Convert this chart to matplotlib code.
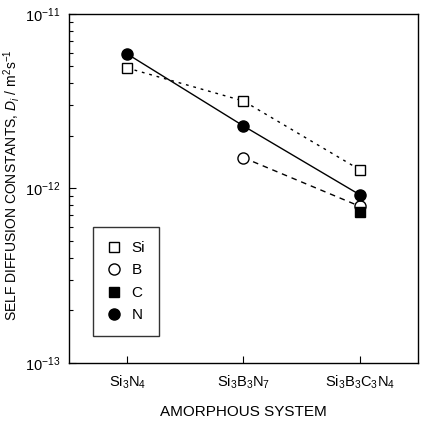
import numpy as np
import matplotlib
matplotlib.use('Agg')
import matplotlib.pyplot as plt
from matplotlib.lines import Line2D

plt.rcParams['font.family'] = ['Liberation Sans', 'DejaVu Sans']
plt.rcParams['mathtext.fontset'] = 'custom'
plt.rcParams['mathtext.rm'] = 'Liberation Sans'
plt.rcParams['mathtext.it'] = 'Liberation Sans:italic'

systems = ['Si$_3$N$_4$', 'Si$_3$B$_3$N$_7$', 'Si$_3$B$_3$C$_3$N$_4$']
si_vals = [4.9e-12, 3.17e-12, 1.28e-12]
b_vals = [1.5e-12, 7.9e-13]
c_vals = [7.3e-13]
n_vals = [5.9e-12, 2.28e-12, 9.2e-13]

x = np.arange(len(systems))

fig = plt.figure(figsize=(4.26, 4.22), dpi=100)
ax = fig.add_axes([0.162, 0.140, 0.819, 0.827])

ax.plot(x, si_vals, color='black', lw=1, ls=(0, (2, 3.5)),
        marker='s', ms=7.5, mfc='white', mec='black', mew=1)
ax.plot(x[1:], b_vals, color='black', lw=1, ls=(0, (4, 3.5)),
        marker='o', ms=8, mfc='white', mec='black', mew=1)
ax.plot(x, n_vals, color='black', lw=1, ls='-',
        marker='o', ms=8, mfc='black', mec='black')
ax.plot(x[2:], c_vals, color='black', ls='none',
        marker='s', ms=7.5, mfc='black', mec='black')

ax.set_yscale('log')
ax.set_ylim(1e-13, 1e-11)
ax.set_xlim(-0.5, 2.5)
ax.set_xticks(x)
ax.set_xticklabels(systems, fontsize=10.5)
ax.set_yticks([1e-13, 1e-12, 1e-11])
ax.set_yticklabels(['10$^{-13}$', '10$^{-12}$', '10$^{-11}$'], fontsize=10.5)
ax.tick_params(axis='both', which='major', direction='in', length=5, width=0.8, pad=8)
ax.tick_params(axis='y', which='major', pad=6)
ax.tick_params(axis='y', which='minor', direction='in', length=3, width=0.8)
ax.tick_params(axis='y', which='minor', labelleft=False)
ax.set_xlabel('AMORPHOUS SYSTEM', fontsize=11, labelpad=10)
ax.set_ylabel('SELF DIFFUSION CONSTANTS, $D_i$ / m$^2$s$^{-1}$', fontsize=10)
ax.yaxis.set_label_coords(-0.135, 0.51)
for s in ax.spines.values():
    s.set_linewidth(1)

handles = [
    Line2D([], [], ls='none', marker='s', ms=7.5, mfc='white', mec='black'),
    Line2D([], [], ls='none', marker='o', ms=8, mfc='white', mec='black'),
    Line2D([], [], ls='none', marker='s', ms=7.5, mfc='black', mec='black'),
    Line2D([], [], ls='none', marker='o', ms=8, mfc='black', mec='black'),
]
leg = ax.legend(handles, ['Si', 'B', 'C', 'N'], loc='lower left',
                bbox_to_anchor=(0.069, 0.077), fontsize=11, frameon=True,
                fancybox=False, edgecolor='black', handlelength=1.0,
                handletextpad=0.6, labelspacing=0.55, borderpad=0.9,
                borderaxespad=0)
leg.get_frame().set_linewidth(1)

plt.savefig('out.png', dpi=100)
